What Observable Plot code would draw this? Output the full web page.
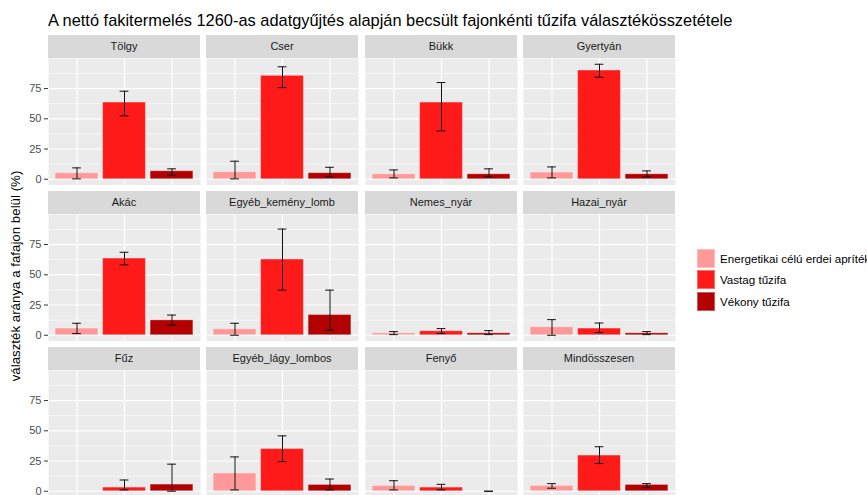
<!DOCTYPE html>
<html><head><meta charset="utf-8">
<script src="https://cdn.jsdelivr.net/npm/d3@7"></script>
<script src="https://cdn.jsdelivr.net/npm/@observablehq/plot@0.6"></script>
<style>
html,body{margin:0;padding:0;background:#fff;overflow:hidden;width:867px;height:495px;}
#root{position:relative;width:867px;height:495px;font-family:"Liberation Sans",Arial,sans-serif;overflow:hidden;}
.title{position:absolute;left:48px;top:10px;font-size:16.4px;line-height:20px;color:#000;white-space:nowrap;}
.ylab{position:absolute;left:15px;top:276px;transform:translate(-50%,-50%) rotate(-90deg);font-size:13.3px;color:#000;white-space:nowrap;}
.strip{position:absolute;height:23px;line-height:23px;background:#D9D9D9;color:#1A1A1A;font-size:11px;text-align:center;white-space:nowrap;}
.panel{position:absolute;}
.panel svg{display:block;}
.panel g[aria-label="y-axis tick"]{stroke:#333333;}
.panel g[aria-label="y-axis tick label"]{fill:#4D4D4D;}
.panel g[aria-label="y-axis"] line{stroke:#333333;}
.panel g[aria-label="y-axis"] text{fill:#4D4D4D;}
.legend{position:absolute;left:697px;top:248px;}
.key{display:flex;align-items:center;height:21.3px;}
.sw{width:18px;height:19px;box-sizing:border-box;border:1px solid rgba(255,255,255,0.35);}
.kl{margin-left:5px;font-size:11.6px;color:#000;white-space:nowrap;}
</style></head><body><div id="root"></div>
<script>
// ---- data ----
const title = "A nettó fakitermelés 1260-as adatgyűjtés alapján becsült fajonkénti tűzifa választékösszetétele";
const yTitle = "választék aránya a fafajon belül (%)";
const species = ["Tölgy","Cser","Bükk","Gyertyán","Akác","Egyéb_kemény_lomb","Nemes_nyár","Hazai_nyár","Fűz","Egyéb_lágy_lombos","Fenyő","Mindösszesen"];
const types = ["Energetikai célú erdei apríték","Vastag tűzifa","Vékony tűzifa"];
const typeColors = ["#FF9999","#FF1A1A","#B30000"];
const yTicks = [0,25,50,75];
const yMinorTicks = [12.5,37.5,62.5,87.5];

const energ     = [5.0, 5.8, 4.1, 5.5, 5.5, 4.9, 1.6, 6.6, null, 14.7, 4.4, 4.4];
const energLow  = [0.3, 0.3, 1.1, 1.1, 1.4, 0.0, 0.5, 0.0, null, 1.1, 1.1, 2.5];
const energHigh = [9.4, 14.9, 7.7, 10.2, 9.9, 9.9, 3.0, 12.9, null, 28.4, 8.7, 6.3];

const vastag     = [63.4, 85.5, 63.4, 89.9, 63.4, 62.6, 3.3, 5.5, 3.0, 34.9, 3.0, 29.5];
const vastagLow  = [52.4, 75.8, 40.0, 84.4, 58.2, 37.3, 1.4, 2.2, 1.1, 24.5, 1.1, 22.9];
const vastagHigh = [72.8, 93.0, 80.0, 95.1, 68.6, 87.8, 5.5, 10.1, 9.3, 45.8, 5.7, 36.8];

const vekony     = [6.6, 5.0, 4.1, 4.1, 12.3, 16.7, 1.6, 1.6, 5.5, 5.2, 0.0, 5.2];
const vekonyLow  = [3.3, 2.0, 2.0, 2.0, 8.5, 4.1, 0.5, 0.5, 0.0, 1.1, 0.0, 3.0];
const vekonyHigh = [8.6, 9.9, 8.6, 6.9, 16.7, 37.3, 3.8, 3.0, 22.4, 10.1, 0.0, 6.3];

// ---- build table ----
const series = [[energ,energLow,energHigh],[vastag,vastagLow,vastagHigh],[vekony,vekonyLow,vekonyHigh]];
const table = [];
species.forEach((s,i)=>{
  types.forEach((t,j)=>{
    const [v,lo,hi] = series[j];
    if (v[i] != null) table.push({species:s, type:t, value:v[i], low:lo[i], high:hi[i]});
  });
});
const yMax = d3.max(table, d=>d.high);
const yDomain = [-0.05*yMax, yMax*1.05];

// ---- layout ----
const colLeft = [48, 206, 365, 523];
const rowTop = [35, 191, 347];
const panelW = 152, stripH = 23, panelH = 126.5;
const font = '"Liberation Sans", Arial, sans-serif';

const root = document.getElementById("root");
const tdiv = document.createElement("div"); tdiv.className="title"; tdiv.textContent=title; root.appendChild(tdiv);
const ydiv = document.createElement("div"); ydiv.className="ylab"; ydiv.textContent=yTitle; root.appendChild(ydiv);

species.forEach((s,k)=>{
  const col = k%4, row = Math.floor(k/4);
  const data = table.filter(d=>d.species===s);
  const ml = col===0 ? 48 : 0;
  const svg = Plot.plot({
    width: ml + panelW,
    height: panelH,
    marginTop: 0, marginBottom: 0, marginRight: 0, marginLeft: ml,
    x: {type:"band", domain: types, paddingInner: 0.1, paddingOuter: 0.15, align: 0.5, round: false, axis: null},
    y: {domain: yDomain, ticks: yTicks, tickSize: 4, tickPadding: 3, label: null, axis: col===0 ? "left" : null, tickFormat: d=>String(d)},
    color: {domain: types, range: typeColors},
    style: {fontFamily: font, fontSize: "11px", background: "transparent", overflow: "visible", maxWidth: "none"},
    marks: [
      Plot.frame({fill:"#EBEBEB", stroke:"none"}),
      Plot.ruleY(yMinorTicks, {stroke:"#fff", strokeWidth:0.6}),
      Plot.ruleY(yTicks, {stroke:"#fff", strokeWidth:1.2}),
      Plot.ruleX(types, {x: d=>d, stroke:"#fff", strokeWidth:1.2}),
      Plot.barY(data, {x:"type", y:"value", fill:"type", stroke:"#fff", strokeOpacity:0.3, strokeWidth:1}),
      Plot.ruleX(data, {x:"type", y1:"low", y2:"high", stroke:"#111", strokeWidth:1}),
      Plot.tickY(data, {x:"type", y:"low", stroke:"#111", strokeWidth:1, insetLeft:17, insetRight:17}),
      Plot.tickY(data, {x:"type", y:"high", stroke:"#111", strokeWidth:1, insetLeft:17, insetRight:17})
    ]
  });
  const strip = document.createElement("div");
  strip.className = "strip";
  strip.style.left = colLeft[col]+"px"; strip.style.top = rowTop[row]+"px"; strip.style.width = panelW+"px";
  strip.textContent = s;
  root.appendChild(strip);
  const wrap = document.createElement("div");
  wrap.className = "panel";
  wrap.style.left = (colLeft[col]-ml)+"px"; wrap.style.top = (rowTop[row]+stripH)+"px";
  wrap.appendChild(svg);
  root.appendChild(wrap);
});

// legend
const leg = document.createElement("div"); leg.className="legend";
types.forEach((t,j)=>{
  const row = document.createElement("div"); row.className="key";
  const sw = document.createElement("div"); sw.className="sw"; sw.style.background = typeColors[j];
  const lb = document.createElement("div"); lb.className="kl"; lb.textContent = t;
  row.appendChild(sw); row.appendChild(lb); leg.appendChild(row);
});
root.appendChild(leg);
</script></body></html>
